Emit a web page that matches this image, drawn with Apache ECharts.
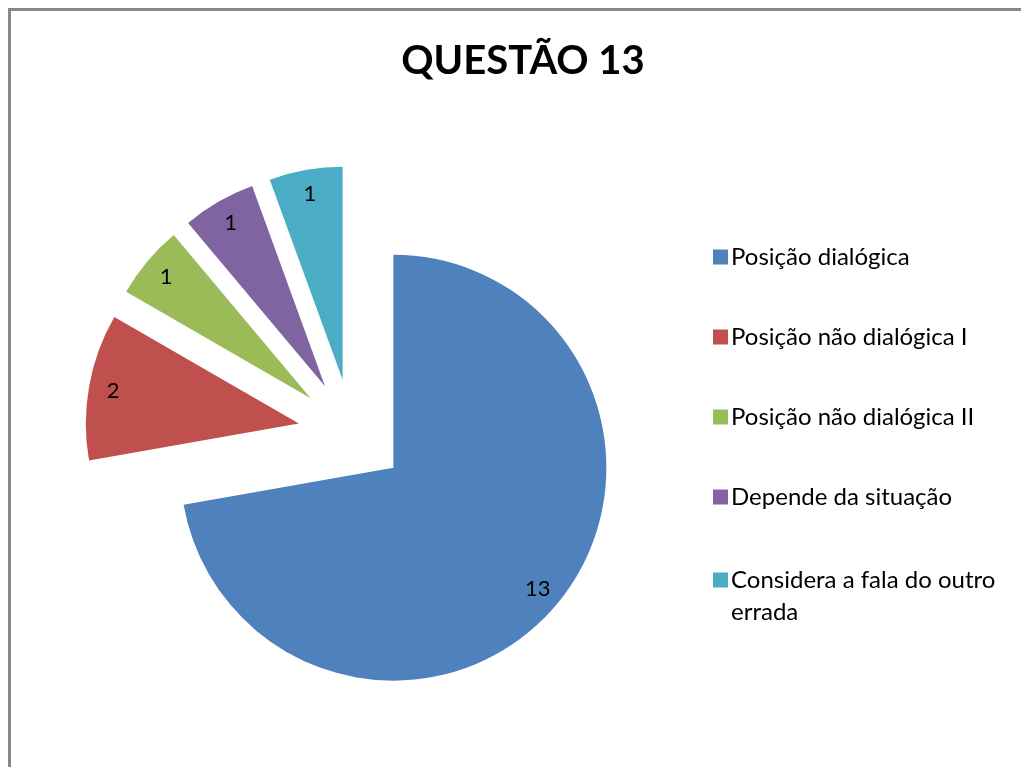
<!DOCTYPE html>
<html>
<head>
<meta charset="utf-8">
<script src="https://cdn.jsdelivr.net/npm/echarts@6/dist/echarts.min.js"></script>
<style>
html,body{margin:0;padding:0;background:#fff;}
#chart{width:1021px;height:767px;}
</style>
</head>
<body>
<div id="chart"></div>
<script>
var categories = ['Posição dialógica', 'Posição não dialógica I', 'Posição não dialógica II', 'Depende da situação', 'Considera a fala do outro errada'];
var legendLabels = ['Posição dialógica', 'Posição não dialógica I', 'Posição não dialógica II', 'Depende da situação', 'Considera a fala do outro\nerrada'];
var values = [13, 2, 1, 1, 1];
var colors = ['#4F81BD', '#C0504D', '#9BBB59', '#8064A2', '#4BACC6'];
var titleText = 'QUESTÃO 13';

var FONT = 'Lato';
var chart = echarts.init(document.getElementById('chart'), null, {renderer: 'canvas'});

var mainData = categories.map(function (c, i) {
  return {name: c, value: values[i], selected: true, itemStyle: {color: colors[i]}};
});
var labelData = categories.map(function (c, i) {
  return {name: c, value: values[i], selected: true};
});
var legendMap = {};
categories.forEach(function (c, i) { legendMap[c] = legendLabels[i]; });

var center = [352, 433];
var R = 213;
var offset = 54;

var legendText = {fontFamily: FONT, fontSize: 24, color: '#000', lineHeight: 32, padding: [0, 0, 0, -2]};

chart.setOption({
  animation: false,
  backgroundColor: '#ffffff',
  color: colors,
  title: {
    text: titleText,
    left: 518,
    textAlign: 'center',
    top: 36,
    textStyle: {fontFamily: FONT, fontWeight: 'bold', fontSize: 40, color: '#000'}
  },
  legend: [{
    orient: 'vertical',
    left: 708,
    top: 236,
    itemWidth: 15,
    itemHeight: 15,
    itemGap: 48,
    icon: 'rect',
    selectedMode: false,
    data: categories.slice(0, 4),
    formatter: function (n) { return legendMap[n]; },
    textStyle: legendText
  }, {
    orient: 'vertical',
    left: 708,
    top: 527,
    itemWidth: 15,
    itemHeight: 15,
    icon: 'rect',
    selectedMode: false,
    data: [categories[4]],
    formatter: function (n) { return ' \n' + legendMap[n]; },
    textStyle: legendText
  }],
  graphic: [{
    type: 'rect',
    shape: {x: 9.5, y: 9.5, width: 1100, height: 1000},
    style: {fill: 'none', stroke: '#878787', lineWidth: 3},
    silent: true,
    z: 100
  }],
  series: [{
    type: 'pie',
    center: center,
    radius: [0, R],
    startAngle: 90,
    clockwise: true,
    selectedMode: 'multiple',
    selectedOffset: offset,
    silent: true,
    label: {show: false},
    labelLine: {show: false},
    select: {itemStyle: {borderWidth: 0}},
    emphasis: {disabled: true},
    data: mainData
  }, {
    type: 'pie',
    center: center,
    radius: [R - 60, R + 5],
    startAngle: 90,
    clockwise: true,
    selectedMode: 'multiple',
    selectedOffset: offset,
    silent: true,
    itemStyle: {color: 'rgba(0,0,0,0)'},
    select: {itemStyle: {color: 'rgba(0,0,0,0)'}},
    emphasis: {disabled: true},
    labelLine: {show: false},
    label: {
      show: true,
      position: 'inside',
      formatter: '{c}',
      fontFamily: FONT,
      fontSize: 22,
      color: '#000'
    },
    data: labelData
  }]
});
</script>
</body>
</html>
